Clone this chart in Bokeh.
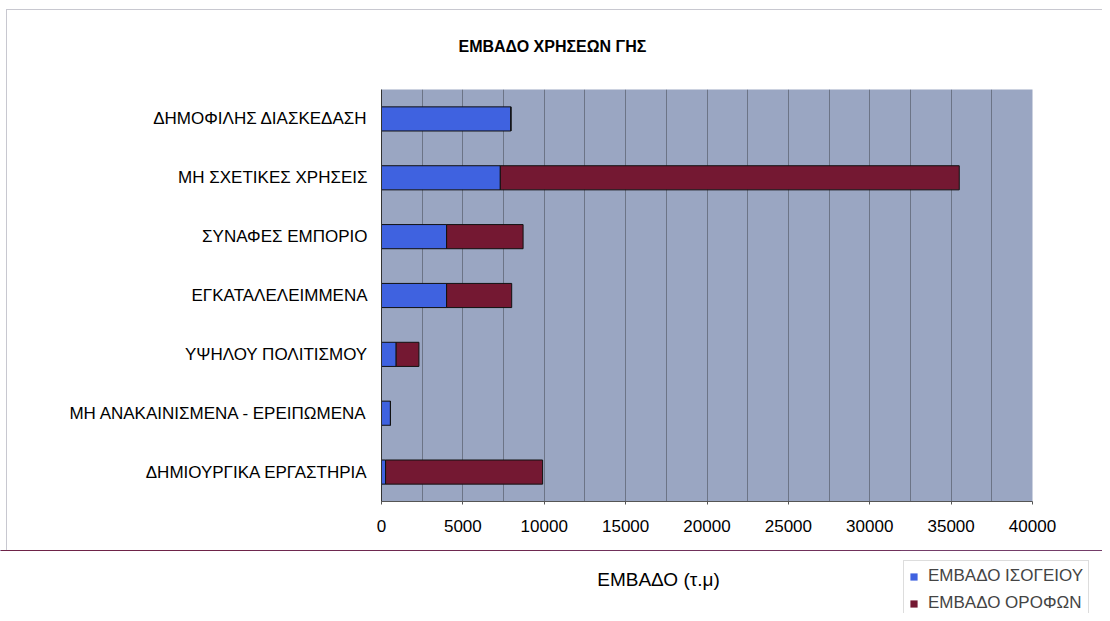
from bokeh.plotting import figure
from bokeh.models import (ColumnDataSource, FactorRange, Range1d, SingleIntervalTicker,
                          Title, Legend, LegendItem, InlineStyleSheet)
from bokeh.core.properties import value
from bokeh.embed import file_html
from bokeh.resources import INLINE

categories = ["ΔΗΜΟΦΙΛΗΣ ΔΙΑΣΚΕΔΑΣΗ", "ΜΗ ΣΧΕΤΙΚΕΣ ΧΡΗΣΕΙΣ", "ΣΥΝΑΦΕΣ ΕΜΠΟΡΙΟ",
              "ΕΓΚΑΤΑΛΕΛΕΙΜΜΕΝΑ", "ΥΨΗΛΟΥ ΠΟΛΙΤΙΣΜΟΥ",
              "ΜΗ ΑΝΑΚΑΙΝΙΣΜΕΝΑ - ΕΡΕΙΠΩΜΕΝΑ", "ΔΗΜΙΟΥΡΓΙΚΑ ΕΡΓΑΣΤΗΡΙΑ"]
ground = [7950, 7300, 4000, 4000, 900, 550, 250]
floors = [0, 28200, 4700, 4000, 1400, 0, 9650]
series_names = ["ΕΜΒΑΔΟ ΙΣΟΓΕΙΟΥ", "ΕΜΒΑΔΟ ΟΡΟΦΩΝ"]
colors = ["#3F62E0", "#741832"]
x_title = "ΕΜΒΑΔΟ (τ.μ)"
chart_title = "ΕΜΒΑΔΟ ΧΡΗΣΕΩΝ ΓΗΣ"

FONT = "Liberation Sans"
W = 1102

source = ColumnDataSource(dict(cat=categories, ground=ground, floors=floors))

# ---- main chart ----
p = figure(width=W, height=550, output_backend="svg", toolbar_location=None,
           y_range=FactorRange(*reversed(categories)), x_range=Range1d(0, 40000),
           min_border_left=381, min_border_right=70, min_border_top=89, min_border_bottom=49)
p.stylesheets = [InlineStyleSheet(css=":host::after { content: ''; position: absolute; "
                                      "left: 6px; top: 9px; right: 0px; bottom: 0px; "
                                      "border-left: 1px solid #C8C8D0; border-top: 1px solid #C8C8D0; "
                                      "pointer-events: none; }")]

rs = p.hbar_stack(["ground", "floors"], y="cat", height=0.41, color=colors,
                  line_color="#111111", line_width=1, source=source)

p.background_fill_color = "#9AA6C2"
p.border_fill_color = "white"
p.outline_line_color = None

p.xgrid.ticker = SingleIntervalTicker(interval=2500)
p.xgrid.grid_line_color = "#6C7486"
p.xgrid.grid_line_width = 1
p.ygrid.grid_line_color = None

p.xaxis.ticker = SingleIntervalTicker(interval=5000)
p.xaxis.minor_tick_line_color = None
p.xaxis.major_tick_out = 3
p.xaxis.major_tick_in = 0
p.xaxis.axis_line_color = "#555555"
p.xaxis.major_tick_line_color = "#555555"
p.xaxis.major_label_text_font = FONT
p.xaxis.major_label_text_font_size = "17px"
p.xaxis.major_label_text_color = "black"
p.xaxis.major_label_standoff = 14

p.yaxis.major_tick_line_color = None
p.yaxis.minor_tick_line_color = None
p.yaxis.axis_line_color = "#333333"
p.yaxis.major_label_text_font = FONT
p.yaxis.major_label_text_font_size = "17px"
p.yaxis.major_label_text_color = "black"
p.yaxis.major_label_standoff = 8

title = Title(text=chart_title, align="left", offset=77,
              text_font=FONT, text_font_size="16px", text_font_style="bold",
              text_color="black", standoff=70)
p.add_layout(title, "above")

# ---- strip below: axis title + legend (separate root, page-pixel coordinates) ----
q = figure(width=W, height=63, output_backend="svg", toolbar_location=None,
           x_range=Range1d(0, W), y_range=Range1d(0, 63),
           x_axis_type=None, y_axis_type=None, min_border=0)
q.outline_line_color = None
q.background_fill_color = "white"
q.border_fill_color = "white"

q.text(x=[658], y=[34], text=[x_title], text_font=value(FONT), text_font_size="19px",
       text_align="center", text_baseline="middle", text_color="black")

# legend proxies: series values lie far outside this strip's y range, so only the
# legend swatches show; no outline so nothing is drawn at the strip's edge
proxy_src = ColumnDataSource(dict(g=ground))
r0 = q.hbar(y="g", right="g", height=1, fill_color=colors[0],
            line_color=None, source=proxy_src)
r1 = q.hbar(y="g", right="g", height=1, fill_color=colors[1],
            line_color=None, source=proxy_src)

legend = Legend(items=[LegendItem(label=series_names[0], renderers=[r0]),
                       LegendItem(label=series_names[1], renderers=[r1])],
                location=(903, -6), label_text_font=FONT, label_text_font_size="17px",
                glyph_width=9, glyph_height=9, spacing=7, padding=5,
                border_line_color="#BBBBBB", background_fill_color="white",
                background_fill_alpha=1, label_standoff=10, margin=0)
q.add_layout(legend, "center")

open("out.html", "w").write(file_html([p, q], INLINE))
